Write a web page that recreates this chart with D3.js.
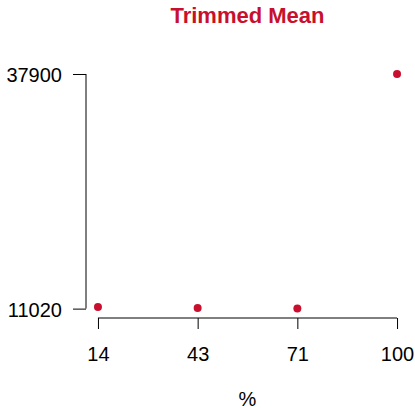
<!DOCTYPE html>
<html>
<head>
<meta charset="utf-8">
<script src="https://cdn.jsdelivr.net/npm/d3@7"></script>
<style>
  html, body { margin: 0; padding: 0; background: #fff; }
  svg { display: block; font-family: "Liberation Sans", Arial, sans-serif; }
</style>
</head>
<body>
<svg id="chart" width="415" height="408"></svg>
<script>
// Trimmed share (%) and resulting mean
const percents = [100 / 7, 300 / 7, 500 / 7, 100];
const means = [11200, 11090, 11020, 37900];
const xTickValues = [100 / 7, 300 / 7, 500 / 7, 100];
const xTickLabels = ["14", "43", "71", "100"];
const yTickValues = [11020, 37900];
const yTickLabels = ["11020", "37900"];

const accent = "#C8102E";
const font = "'Liberation Sans', Arial, sans-serif";
const svg = d3.select("#chart");

// Plot region with a 4% padding on both domains
const plot = { left: 86, right: 409, top: 64.6, bottom: 318 };
const pad = (lo, hi) => { const d = (hi - lo) * 0.04; return [lo - d, hi + d]; };

const x = d3.scaleLinear()
  .domain(pad(d3.min(percents), d3.max(percents)))
  .range([plot.left, plot.right]);
const y = d3.scaleLinear()
  .domain(pad(d3.min(means), d3.max(means)))
  .range([plot.bottom, plot.top]);

// Title
svg.append("text")
  .attr("x", (plot.left + plot.right) / 2)
  .attr("y", 22.5)
  .attr("text-anchor", "middle")
  .attr("font-weight", "bold")
  .attr("font-size", 22)
  .attr("font-family", font)
  .attr("fill", accent)
  .text("Trimmed Mean");

// Bottom axis
const xAxis = d3.axisBottom(x)
  .tickValues(xTickValues)
  .tickFormat((d, i) => xTickLabels[i])
  .tickSize(11)
  .tickSizeOuter(0)
  .tickPadding(18);
const gx = svg.append("g")
  .attr("transform", `translate(0,${plot.bottom})`)
  .call(xAxis);
gx.select(".domain").remove();
gx.append("line")
  .attr("x1", x(xTickValues[0])).attr("x2", x(xTickValues[xTickValues.length - 1]))
  .attr("stroke", "#000");
gx.selectAll(".tick line").attr("stroke", "#000");
gx.selectAll(".tick text")
  .attr("font-size", 20)
  .attr("fill", "#000")
  .attr("font-family", font);

// Left axis
const yAxis = d3.axisLeft(y)
  .tickValues(yTickValues)
  .tickFormat((d, i) => yTickLabels[i])
  .tickSize(13)
  .tickSizeOuter(0)
  .tickPadding(11);
const gy = svg.append("g")
  .attr("transform", `translate(${plot.left},0)`)
  .call(yAxis);
gy.select(".domain").remove();
gy.append("line")
  .attr("y1", y(yTickValues[0])).attr("y2", y(yTickValues[yTickValues.length - 1]))
  .attr("stroke", "#000");
gy.selectAll(".tick line").attr("stroke", "#000");
gy.selectAll(".tick text")
  .attr("font-size", 20)
  .attr("dy", "0.37em")
  .attr("fill", "#000")
  .attr("font-family", font);

// Axis title
svg.append("text")
  .attr("x", (plot.left + plot.right) / 2)
  .attr("y", 405.5)
  .attr("text-anchor", "middle")
  .attr("font-size", 20)
  .attr("font-family", font)
  .text("%");

// Points
svg.append("g")
  .selectAll("circle")
  .data(percents)
  .join("circle")
  .attr("cx", d => x(d))
  .attr("cy", (d, i) => y(means[i]))
  .attr("r", 4)
  .attr("fill", accent);
</script>
</body>
</html>
